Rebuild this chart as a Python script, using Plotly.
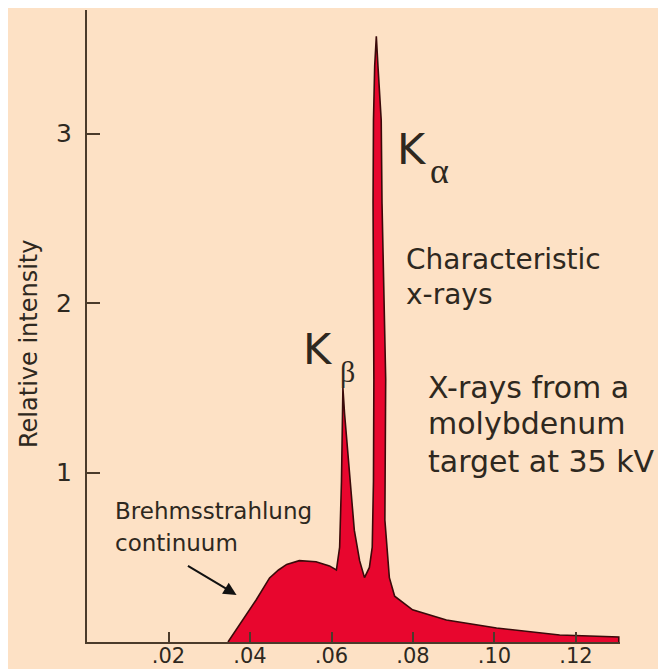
import plotly.graph_objects as go

# Spectrum outline (wavelength in nm, relative intensity)
wavelength = [0.0346, 0.0382, 0.0415, 0.0448, 0.0470, 0.0490, 0.0521, 0.0562, 0.0595, 0.0612,
              0.0620, 0.06245, 0.0628, 0.0632, 0.0646, 0.0656, 0.0669, 0.0681,
              0.0693, 0.0700, 0.0703, 0.0704, 0.0702, 0.0703, 0.0706, 0.0710, 0.0714, 0.0722,
              0.0724, 0.0733, 0.0731, 0.0742, 0.0755, 0.0799, 0.0882, 0.1005, 0.1160, 0.1305, 0.1305]
intensity = [0.0, 0.13, 0.248, 0.378, 0.425, 0.458, 0.48, 0.474, 0.449, 0.425,
             0.56, 0.95, 1.50, 1.35, 0.95, 0.66, 0.48, 0.38,
             0.44, 0.56, 0.95, 1.55, 2.59, 3.08, 3.40, 3.575, 3.40, 3.08,
             2.59, 1.55, 0.72, 0.38, 0.27, 0.19, 0.13, 0.083, 0.041, 0.03, 0.0]

x_tick_vals = [0.02, 0.04, 0.06, 0.08, 0.10, 0.12]
x_tick_text = [".02", ".04", ".06", ".08", ".10", ".12"]
y_tick_vals = [1, 2, 3]
y_tick_text = ["1", "2", "3"]

BG = "#FDE1C5"
RED = "#E8062E"
AX = "#4B3B2B"
TXT = "#2E2820"
FONT = "DejaVu Sans"

fig = go.Figure()
fig.add_trace(go.Scatter(
    x=wavelength, y=intensity, mode="lines", fill="tozeroy",
    fillcolor=RED, line=dict(color="#3A0A0A", width=1.6),
    hoverinfo="skip", showlegend=False))

fig.update_layout(
    width=666, height=669,
    margin=dict(l=79, r=54, t=2, b=35, autoexpand=False),
    paper_bgcolor=BG, plot_bgcolor=BG,
    font=dict(family=FONT, color=TXT),
    xaxis=dict(range=[0, 0.1308], showgrid=False, zeroline=False, automargin=False,
               showline=True, linecolor=AX, linewidth=2,
               ticks="inside", ticklen=10, tickwidth=2, tickcolor=AX,
               tickvals=x_tick_vals, ticktext=x_tick_text,
               tickfont=dict(size=21, color=TXT, family=FONT),
               ticklabelstandoff=-6),
    yaxis=dict(range=[0, 3.73], showgrid=False, zeroline=False, automargin=False,
               showline=True, linecolor=AX, linewidth=2,
               ticks="inside", ticklen=13, tickwidth=2, tickcolor=AX,
               tickvals=y_tick_vals, ticktext=y_tick_text,
               tickfont=dict(size=25, color=TXT, family=FONT),
               ticklabelstandoff=8),
)

labels = [
    ("Brehmsstrahlung", 0.00626, 0.776, 23, FONT),
    ("continuum", 0.00626, 0.584, 23, FONT),
    ("Characteristic", 0.0779, 2.255, 28, FONT),
    ("x-rays", 0.0779, 2.048, 28, FONT),
    ("X-rays from a", 0.0833, 1.502, 30, FONT),
    ("molybdenum", 0.0833, 1.287, 30, FONT),
    ("target at 35 kV", 0.0833, 1.068, 30, FONT),
    ("K", 0.0755, 2.910, 43, FONT),
    ("α", 0.0838, 2.78, 36, "Liberation Serif"),
    ("K", 0.0526, 1.727, 43, FONT),
    ("β", 0.0616, 1.594, 30, "Liberation Serif"),
]
for text, x, y, size, fam in labels:
    fig.add_annotation(x=x, y=y, xref="x", yref="y", text=text, showarrow=False,
                       xanchor="left", yanchor="middle",
                       font=dict(size=size, family=fam, color=TXT))

fig.add_annotation(x=-0.1088, y=0.4715, xref="paper", yref="paper", text="Relative intensity",
                   showarrow=False, textangle=-90, xanchor="center", yanchor="middle",
                   font=dict(size=24, family=FONT, color=TXT))

fig.add_annotation(x=0.0367, y=0.278, ax=0.0244, ay=0.455, xref="x", yref="y",
                   axref="x", ayref="y", text="", showarrow=True,
                   arrowhead=2, arrowsize=1.3, arrowwidth=2, arrowcolor="#111111")

fig.write_html("out.html")
